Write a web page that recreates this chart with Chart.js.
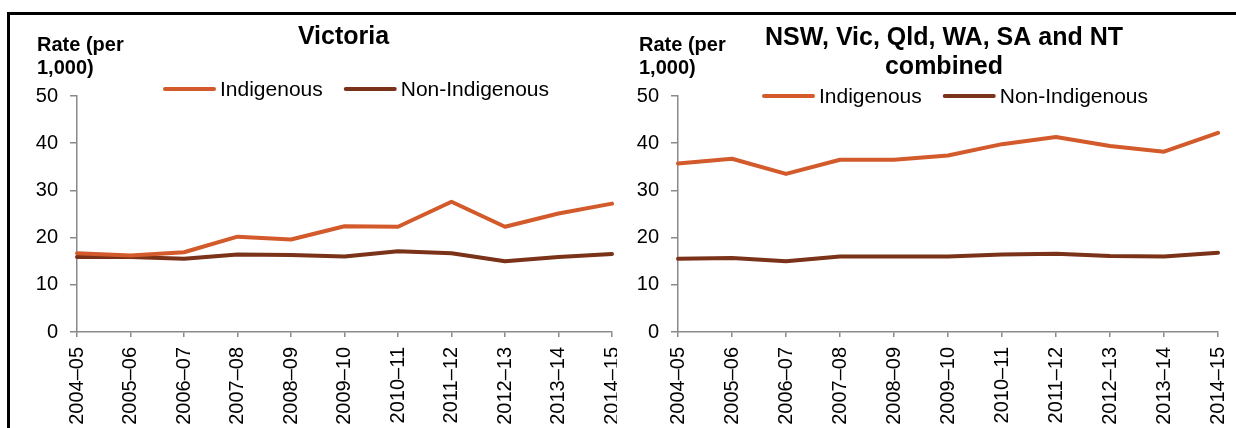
<!DOCTYPE html>
<html>
<head>
<meta charset="utf-8">
<title>Rates, Indigenous and non-Indigenous</title>
<script src="https://cdn.jsdelivr.net/npm/chart.js@4.4.1/dist/chart.umd.min.js"></script>
<style>
  body { margin: 0; background: #fff; }
  #frame { position: relative; width: 1236px; height: 428px; overflow: hidden; background: #fff; }
  .rule-top { position: absolute; left: 7px; top: 12px; width: 1229px; height: 3px; background: #000; }
  .rule-left { position: absolute; left: 7px; top: 12px; width: 3px; height: 416px; background: #000; }
  canvas { position: absolute; top: 15px; }
  #vicChart { left: 11px; }
  #combChart { left: 612px; }
</style>
</head>
<body>
<div id="frame">
  <div class="rule-top"></div>
  <div class="rule-left"></div>
  <canvas id="vicChart" width="606" height="413"></canvas>
  <canvas id="combChart" width="624" height="413"></canvas>
</div>
<script>
const years = ["2004–05", "2005–06", "2006–07", "2007–08", "2008–09", "2009–10",
               "2010–11", "2011–12", "2012–13", "2013–14", "2014–15"];
const seriesNames = ["Indigenous", "Non-Indigenous"];

// Victoria
const vicIndigenous = [16.7, 16.2, 16.9, 20.2, 19.6, 22.4, 22.3, 27.6, 22.3, 25.1, 27.2];
const vicNonIndigenous = [15.9, 15.9, 15.5, 16.4, 16.3, 16.0, 17.1, 16.7, 15.0, 15.9, 16.5];

// NSW, Vic, Qld, WA, SA and NT combined
const combIndigenous = [35.7, 36.7, 33.5, 36.5, 36.5, 37.4, 39.8, 41.3, 39.4, 38.2, 42.2];
const combNonIndigenous = [15.5, 15.7, 15.0, 16.0, 16.0, 16.0, 16.4, 16.6, 16.1, 16.0, 16.8];

const yTicks = [0, 10, 20, 30, 40, 50];
const yAxisTitle = ["Rate (per", "1,000)"];

const ORANGE = "#d25a2b";
const BROWN = "#7a3218";
const AXIS = "#8a8a8a";
const FONT = '"Liberation Sans", Arial, Helvetica, sans-serif';

Chart.defaults.font.family = FONT;
Chart.defaults.color = "#000";

// titles, y axis title and legend are drawn here so they sit where the original has them
const panelText = {
  id: "panelText",
  afterDraw(chart, args, opts) {
    const ctx = chart.ctx;
    const area = chart.chartArea;
    const cx = (area.left + area.right) / 2 + opts.titleShift;
    ctx.save();
    ctx.fillStyle = "#000";
    ctx.textBaseline = "alphabetic";

    ctx.font = "bold 25px " + FONT;
    ctx.textAlign = "center";
    opts.title.forEach((line, i) => ctx.fillText(line, cx, opts.titleBase + i * 29));

    ctx.font = "bold 20px " + FONT;
    ctx.textAlign = "left";
    yAxisTitle.forEach((line, i) => ctx.fillText(line, opts.yTitleX, 36 + i * 23));

    // legend
    ctx.font = "21px " + FONT;
    ctx.textBaseline = "middle";
    let x = opts.legendX;
    const y = opts.legendY;
    chart.data.datasets.forEach((ds) => {
      ctx.strokeStyle = ds.borderColor;
      ctx.lineWidth = 4;
      ctx.lineCap = "round";
      ctx.beginPath();
      ctx.moveTo(x + 2, y);
      ctx.lineTo(x + 51, y);
      ctx.stroke();
      x += 57;
      ctx.fillText(ds.label, x, y + 1);
      x += ctx.measureText(ds.label).width + 21;
    });
    ctx.restore();
  }
};

function makeChart(id, indigenous, nonIndigenous, text, padRight) {
  const ctx = document.getElementById(id).getContext("2d");
  return new Chart(ctx, {
    type: "line",
    data: {
      labels: years,
      datasets: [
        {
          label: seriesNames[0],
          data: indigenous,
          borderColor: ORANGE,
          backgroundColor: ORANGE,
          borderWidth: 4,
          borderCapStyle: "round",
          borderJoinStyle: "round",
          pointRadius: 0,
          tension: 0
        },
        {
          label: seriesNames[1],
          data: nonIndigenous,
          borderColor: BROWN,
          backgroundColor: BROWN,
          borderWidth: 4,
          borderCapStyle: "round",
          borderJoinStyle: "round",
          pointRadius: 0,
          tension: 0
        }
      ]
    },
    options: {
      responsive: false,
      animation: false,
      devicePixelRatio: 1,
      layout: { padding: { top: 81, right: padRight, left: 0, bottom: 0 } },
      plugins: {
        legend: { display: false },
        title: { display: false },
        tooltip: { enabled: false },
        panelText: text
      },
      scales: {
        x: {
          grid: { display: true, drawOnChartArea: false, tickLength: 5, color: AXIS, lineWidth: 1.5 },
          border: { color: AXIS, width: 1.5 },
          ticks: { font: { size: 20 }, color: "#000", minRotation: 90, maxRotation: 90, padding: 10, autoSkip: false },
          afterFit: (s) => {
            s.height = 96;
            s.paddingLeft = 0;
            s.paddingRight = 0;
          }
        },
        y: {
          min: 0,
          max: 50,
          grid: { display: true, drawOnChartArea: false, tickLength: 7, color: AXIS, lineWidth: 1.5 },
          border: { color: AXIS, width: 1.5 },
          ticks: { stepSize: 10, font: { size: 20 }, color: "#000", padding: 12 },
          afterBuildTicks: (s) => { s.ticks = yTicks.map((v) => ({ value: v })); },
          afterFit: (s) => { s.width = 66; }
        }
      }
    },
    plugins: [panelText]
  });
}

document.addEventListener("DOMContentLoaded", () => {
  makeChart("vicChart", vicIndigenous, vicNonIndigenous, {
    title: ["Victoria"], titleBase: 29, titleShift: -1, yTitleX: 26, legendX: 152, legendY: 74
  }, 5);
  makeChart("combChart", combIndigenous, combNonIndigenous, {
    title: ["NSW, Vic, Qld, WA, SA and NT", "combined"], titleBase: 30, titleShift: -4, yTitleX: 27, legendX: 150, legendY: 81
  }, 18);
});
</script>
</body>
</html>
